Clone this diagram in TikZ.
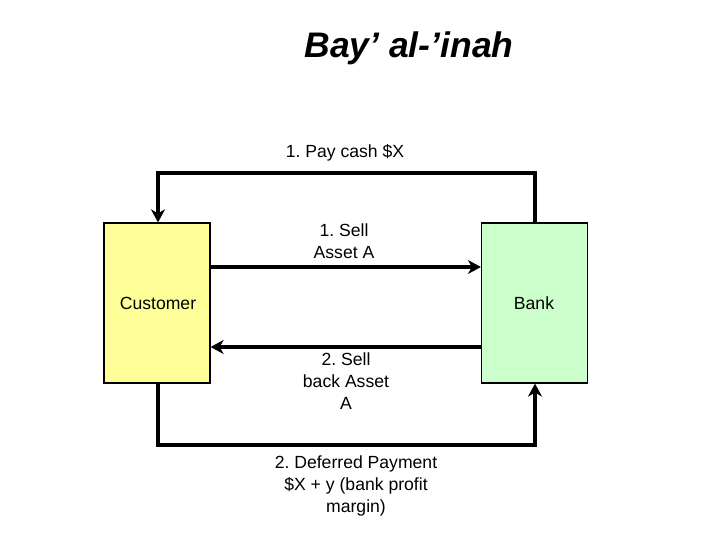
\documentclass[tikz,border=0pt]{standalone}
\usepackage{fontspec}
\setmainfont{Liberation Sans}
\usetikzlibrary{arrows.meta}
\frenchspacing
\begin{document}
\begin{tikzpicture}[x=1pt,y=-1pt,
  party/.style={draw=black,line width=1.2pt,minimum width=106pt,minimum height=160pt,inner sep=0pt},
  flow/.style={line width=3.2pt,-{Stealth[length=13pt,width=14pt,inset=4pt]}},
  lbl/.style={align=center,font=\fontsize{17.6}{22}\selectfont,inner sep=0pt}]
\useasboundingbox (0,0) rectangle (720,540);
\node[lbl,font=\fontsize{35.5}{40}\selectfont\bfseries\itshape] (title) at (409,48) {Bay’ al-’inah};
\node[party,fill={rgb,255:red,255;green,255;blue,153}] (cust) at (157,303) {};
\node[lbl] (custlbl) at (158,303) {Customer};
\node[party,fill={rgb,255:red,204;green,255;blue,204}] (bank) at (534.5,303) {};
\node[lbl] (banklbl) at (534,303) {Bank};
\coordinate (t1) at (535,173);
\coordinate (t2) at (158,173);
\coordinate (b1) at (158,445);
\coordinate (b2) at (535,445);
\draw[flow] (bank.north -| t1) -- (t1) -- (t2) -- (cust.north -| t2);
\draw[flow] (cust.east |- 0,267) -- (bank.west |- 0,267);
\draw[flow] (bank.west |- 0,347) -- (cust.east |- 0,347);
\draw[flow] (cust.south -| b1) -- (b1) -- (b2) -- (bank.south -| b2);
\node[lbl] (l1) at (345,153) {1. Pay cash \$X};
\node[lbl] (l2) at (344,241) {1. Sell\\Asset A};
\node[lbl] (l3) at (346,381) {2. Sell\\back Asset\\A};
\node[lbl] (l4) at (356,486) {2. Deferred Payment\\\$X + y (bank profit\\margin)};
\end{tikzpicture}
\end{document}
